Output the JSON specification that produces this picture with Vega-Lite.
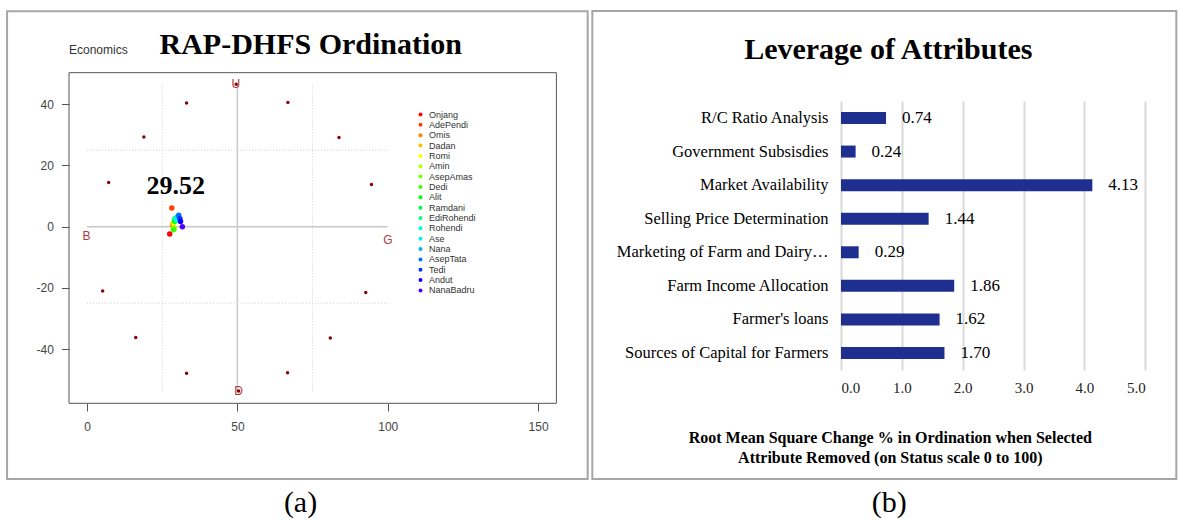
{
  "$schema": "https://vega.github.io/schema/vega-lite/v6.json",
  "padding": {"left": 6, "top": 9, "right": 0, "bottom": 0},
  "autosize": {"type": "pad"},
  "spacing": 2,
  "bounds": "full",
  "config": {"view": {"stroke": null}, "font": "Liberation Sans"},
  "datasets": {
    "one": [{}],
    "farmers": [
      {"name": "Onjang", "x": 27.5, "y": -2.4},
      {"name": "AdePendi", "x": 28.2, "y": 6.1},
      {"name": "Omis", "x": 28.4, "y": 0.6},
      {"name": "Dadan", "x": 28.6, "y": 1.0},
      {"name": "Romi", "x": 28.9, "y": 1.3},
      {"name": "Amin", "x": 29.0, "y": -0.4},
      {"name": "AsepAmas", "x": 28.9, "y": -0.8},
      {"name": "Dedi", "x": 28.7, "y": -1.0},
      {"name": "Alit", "x": 29.1, "y": 1.8},
      {"name": "Ramdani", "x": 29.2, "y": 2.5},
      {"name": "EdiRohendi", "x": 29.5, "y": 2.8},
      {"name": "Rohendi", "x": 29.8, "y": 2.2},
      {"name": "Ase", "x": 30.0, "y": 3.0},
      {"name": "Nana", "x": 30.3, "y": 3.5},
      {"name": "AsepTata", "x": 30.5, "y": 3.7},
      {"name": "Tedi", "x": 30.9, "y": 2.6},
      {"name": "Andut", "x": 31.1, "y": 1.7},
      {"name": "NanaBadru", "x": 31.7, "y": 0.0}
    ],
    "anchors": [
      {"x": 49.6, "y": 46.5}, {"x": 33.1, "y": 40.4}, {"x": 66.8, "y": 40.6},
      {"x": 18.9, "y": 29.3}, {"x": 83.8, "y": 29.1}, {"x": 7.2, "y": 14.4},
      {"x": 94.6, "y": 13.8}, {"x": 5.2, "y": -21.0}, {"x": 92.7, "y": -21.5},
      {"x": 16.2, "y": -36.2}, {"x": 80.9, "y": -36.4}, {"x": 33.1, "y": -47.9},
      {"x": 66.7, "y": -47.7}, {"x": 50.4, "y": -53.7}
    ],
    "anchorLabels": [
      {"label": "B", "x": -0.2, "y": -3.0},
      {"label": "G", "x": 100.1, "y": -4.4},
      {"label": "U", "x": 49.5, "y": 46.5},
      {"label": "D", "x": 50.4, "y": -53.7}
    ],
    "dotted": [
      {"x": 25, "x2": 25, "y": -53.8, "y2": 46.6},
      {"x": 75, "x2": 75, "y": -53.8, "y2": 46.6},
      {"x": 0, "x2": 100, "y": 25, "y2": 25},
      {"x": 0, "x2": 100, "y": -25, "y2": -25}
    ],
    "solid": [
      {"x": 0, "x2": 100, "y": 0, "y2": 0},
      {"x": 50, "x2": 50, "y": -54.2, "y2": 46.6}
    ],
    "leverage": [
      {"attribute": "R/C Ratio Analysis", "value": 0.74},
      {"attribute": "Government Subsisdies", "value": 0.24},
      {"attribute": "Market Availability", "value": 4.13},
      {"attribute": "Selling Price Determination", "value": 1.44},
      {"attribute": "Marketing of Farm and Dairy…", "value": 0.29},
      {"attribute": "Farm Income Allocation", "value": 1.86},
      {"attribute": "Farmer's loans", "value": 1.62},
      {"attribute": "Sources of Capital for Farmers", "value": 1.70}
    ]
  },
  "hconcat": [
    {
      "width": 487.4,
      "height": 302.3,
      "layer": [
        {
          "data": {"name": "dotted"},
          "mark": {"type": "rule", "color": "#cfcfcf", "strokeWidth": 1, "strokeDash": [1, 2], "clip": false},
          "encoding": {
            "x": {"field": "x", "type": "quantitative",
              "scale": {"domain": [-6, 156.1], "nice": false, "zero": false},
              "axis": {"values": [0, 50, 100, 150], "title": null, "grid": false, "domain": false,
                "tickColor": "#555", "tickSize": 7.7, "labelFont": "Liberation Sans", "labelFontSize": 12,
                "labelColor": "#444", "labelPadding": 10}},
            "x2": {"field": "x2"},
            "y": {"field": "y", "type": "quantitative",
              "scale": {"domain": [-57.7, 41.05], "nice": false, "zero": false},
              "axis": {"values": [-40, -20, 0, 20, 40], "title": null, "grid": false, "domain": false,
                "tickColor": "#555", "tickSize": 7.6, "labelFont": "Liberation Sans", "labelFontSize": 12,
                "labelColor": "#444", "labelPadding": 8,
                "labelExpr": "datum.value < 0 ? '-' + abs(datum.value) : '' + datum.value"}},
            "y2": {"field": "y2"}
          }
        },
        {
          "data": {"name": "solid"},
          "mark": {"type": "rule", "color": "#c8c8c8", "strokeWidth": 1.5, "clip": false},
          "encoding": {
            "x": {"field": "x", "type": "quantitative"},
            "x2": {"field": "x2"},
            "y": {"field": "y", "type": "quantitative"},
            "y2": {"field": "y2"}
          }
        },
        {
          "data": {"name": "one"},
          "mark": {"type": "rect", "filled": false, "stroke": "#555", "strokeWidth": 1, "clip": false},
          "encoding": {
            "x": {"datum": -6, "type": "quantitative"},
            "x2": {"datum": 156.1},
            "y": {"datum": 50.3, "type": "quantitative"},
            "y2": {"datum": -57.7}
          }
        },
        {
          "data": {"name": "one"},
          "mark": {"type": "rect", "filled": false, "stroke": "#a6a6a6", "strokeWidth": 2, "clip": false},
          "encoding": {
            "x": {"datum": -26.6, "type": "quantitative"},
            "x2": {"datum": 166.5},
            "y": {"datum": 70.4, "type": "quantitative"},
            "y2": {"datum": -82.4}
          }
        },
        {
          "data": {"name": "anchors"},
          "mark": {"type": "point", "filled": true, "color": "#8b0000", "size": 12, "opacity": 1, "clip": false},
          "encoding": {
            "x": {"field": "x", "type": "quantitative"},
            "y": {"field": "y", "type": "quantitative"}
          }
        },
        {
          "data": {"name": "anchorLabels"},
          "mark": {"type": "text", "color": "#b03a3a", "font": "Liberation Sans", "fontSize": 12, "align": "center", "baseline": "middle", "clip": false},
          "encoding": {
            "x": {"field": "x", "type": "quantitative"},
            "y": {"field": "y", "type": "quantitative"},
            "text": {"field": "label"}
          }
        },
        {
          "data": {"name": "farmers"},
          "mark": {"type": "circle", "size": 30, "opacity": 1},
          "encoding": {
            "x": {"field": "x", "type": "quantitative"},
            "y": {"field": "y", "type": "quantitative"},
            "color": {"field": "name", "type": "nominal",
              "scale": {
                "domain": ["Onjang", "AdePendi", "Omis", "Dadan", "Romi", "Amin", "AsepAmas", "Dedi", "Alit", "Ramdani", "EdiRohendi", "Rohendi", "Ase", "Nana", "AsepTata", "Tedi", "Andut", "NanaBadru"],
                "range": ["#FF0000", "#FF4100", "#FF8200", "#FFC200", "#FBFF00", "#BAFF00", "#79FF00", "#39FF00", "#00FF08", "#00FF49", "#00FF89", "#00FFCA", "#00F3FF", "#00B2FF", "#0071FF", "#0031FF", "#1000FF", "#5100FF"]
              },
              "legend": {"orient": "none", "legendX": 347, "legendY": 9, "title": null,
                "symbolType": "circle", "symbolSize": 16, "symbolStrokeWidth": 0,
                "labelFont": "Liberation Sans", "labelFontSize": 9, "labelColor": "#333",
                "rowPadding": 0.35, "labelOffset": 4, "padding": 0}
            }
          }
        },
        {
          "data": {"name": "one"},
          "mark": {"type": "text", "font": "Liberation Serif", "fontWeight": "bold", "fontSize": 26, "align": "center", "baseline": "alphabetic", "color": "#000"},
          "encoding": {
            "x": {"datum": 29.5, "type": "quantitative"},
            "y": {"datum": 10.7, "type": "quantitative"},
            "text": {"value": "29.52"}
          }
        },
        {
          "data": {"name": "one"},
          "mark": {"type": "text", "font": "Liberation Serif", "fontWeight": "bold", "fontSize": 30, "align": "center", "baseline": "alphabetic", "color": "#000"},
          "encoding": {
            "x": {"datum": 74.4, "type": "quantitative"},
            "y": {"datum": 56.3, "type": "quantitative"},
            "text": {"value": "RAP-DHFS Ordination"}
          }
        },
        {
          "data": {"name": "one"},
          "mark": {"type": "text", "font": "Liberation Sans", "fontSize": 12, "align": "left", "baseline": "alphabetic", "color": "#333"},
          "encoding": {
            "x": {"datum": -6.0, "type": "quantitative"},
            "y": {"datum": 56.3, "type": "quantitative"},
            "text": {"value": "Economics"}
          }
        },
        {
          "data": {"name": "one"},
          "mark": {"type": "text", "font": "Liberation Serif", "fontSize": 30, "align": "center", "baseline": "alphabetic", "color": "#000"},
          "encoding": {
            "x": {"datum": 71, "type": "quantitative"},
            "y": {"datum": -93.2, "type": "quantitative"},
            "text": {"value": "(a)"}
          }
        }
      ]
    },
    {
      "width": 304.3,
      "height": 269,
      "layer": [
        {
          "data": {"name": "one"},
          "layer": [
            {
              "mark": {"type": "rect", "filled": false, "stroke": "#a6a6a6", "strokeWidth": 2, "clip": false},
              "encoding": {
                "x": {"datum": -4.086, "type": "quantitative", "scale": {"domain": [0, 5], "nice": false, "zero": false}},
                "x2": {"datum": 5.51},
                "y": {"datum": 1.3346, "type": "quantitative", "scale": {"domain": [0, 1], "nice": false, "zero": false}, "axis": null},
                "y2": {"datum": -0.4052}
              }
            },
            {
              "mark": {"type": "text", "font": "Liberation Serif", "fontWeight": "bold", "fontSize": 30, "align": "center", "baseline": "alphabetic", "color": "#000"},
              "encoding": {
                "x": {"datum": 0.777, "type": "quantitative"},
                "y": {"datum": 1.156, "type": "quantitative"},
                "text": {"value": "Leverage of Attributes"}
              }
            },
            {
              "mark": {"type": "text", "font": "Liberation Serif", "fontWeight": "bold", "fontSize": 16, "align": "center", "baseline": "alphabetic", "lineHeight": 20, "color": "#000"},
              "encoding": {
                "x": {"datum": 0.81, "type": "quantitative"},
                "y": {"datum": -0.271, "type": "quantitative"},
                "text": {"value": ["Root Mean Square Change % in Ordination when Selected", "Attribute Removed (on Status scale 0 to 100)"]}
              }
            },
            {
              "mark": {"type": "text", "font": "Liberation Serif", "fontSize": 30, "align": "center", "baseline": "alphabetic", "color": "#000"},
              "encoding": {
                "x": {"datum": 0.794, "type": "quantitative"},
                "y": {"datum": -0.528, "type": "quantitative"},
                "text": {"value": "(b)"}
              }
            }
          ]
        },
        {
          "data": {"name": "leverage"},
          "layer": [
            {
              "mark": {"type": "bar", "color": "#1f2f8f"},
              "encoding": {
                "x": {"field": "value", "type": "quantitative",
                  "scale": {"domain": [0, 5], "nice": false, "zero": false},
                  "axis": {"values": [0, 1, 2, 3, 4, 5], "format": ".1f", "grid": true, "gridColor": "#d9d9d9", "gridWidth": 2,
                    "domain": false, "ticks": false, "tickSize": 0, "labelFont": "Liberation Serif", "labelFontSize": 15,
                    "labelColor": "#222", "labelPadding": 10, "title": null}},
                "y": {"field": "attribute", "type": "nominal", "sort": null,
                  "scale": {"paddingInner": 0.643, "paddingOuter": 0.327},
                  "axis": {"orient": "left", "title": null, "ticks": false, "tickSize": 0, "domain": false, "labelFont": "Liberation Serif",
                    "labelFontSize": 16.5, "labelColor": "#000", "labelPadding": 13, "labelLimit": 300}}
              }
            },
            {
              "mark": {"type": "text", "font": "Liberation Serif", "fontSize": 17, "align": "left", "baseline": "middle", "dx": 16, "color": "#000"},
              "encoding": {
                "x": {"field": "value", "type": "quantitative"},
                "y": {"field": "attribute", "type": "nominal", "sort": null},
                "text": {"field": "value", "type": "quantitative", "format": ".2f"}
              }
            }
          ]
        }
      ],
      "resolve": {"scale": {"y": "independent"}, "axis": {"y": "independent"}}
    }
  ]
}
